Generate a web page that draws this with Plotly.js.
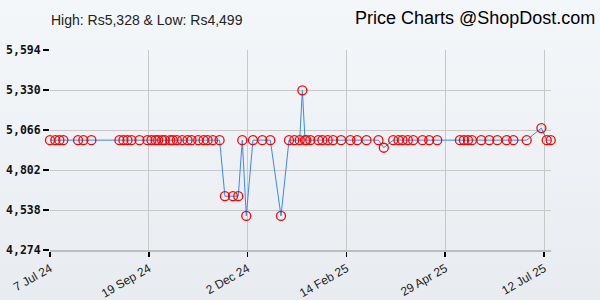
<!DOCTYPE html>
<html>
<head>
<meta charset="utf-8">
<script src="https://cdn.plot.ly/plotly-3.0.1.min.js"></script>
<style>
html,body{margin:0;padding:0;}
#wrap{width:600px;height:300px;background:linear-gradient(to bottom,#f4f7fa 0%,#e8ecf0 100%);}
#chart{width:600px;height:300px;}
</style>
</head>
<body>
<div id="wrap"><div id="chart"></div></div>
<script>
const dates = [
 '2024-07-07','2024-07-11','2024-07-14','2024-07-17','2024-07-28','2024-08-01','2024-08-07',
 '2024-08-28','2024-08-31','2024-09-03','2024-09-06','2024-09-12','2024-09-18','2024-09-21',
 '2024-09-24','2024-09-26','2024-09-29','2024-10-01','2024-10-05','2024-10-07','2024-10-10',
 '2024-10-14','2024-10-18','2024-10-21','2024-10-26','2024-10-30','2024-11-02','2024-11-06',
 '2024-11-11','2024-11-15','2024-11-21','2024-11-25','2024-11-28','2024-12-01','2024-12-06',
 '2024-12-13','2024-12-19','2024-12-27','2025-01-02','2025-01-06','2025-01-10','2025-01-12',
 '2025-01-14','2025-01-15','2025-01-18','2025-01-24','2025-01-27','2025-01-31','2025-02-04',
 '2025-02-10','2025-02-17','2025-02-22','2025-03-01','2025-03-10','2025-03-14','2025-03-21',
 '2025-03-25','2025-03-28','2025-04-01','2025-04-05','2025-04-12','2025-04-17','2025-04-23',
 '2025-05-10','2025-05-13','2025-05-16','2025-05-19','2025-05-26','2025-06-01','2025-06-07',
 '2025-06-14','2025-06-19','2025-06-29','2025-07-10','2025-07-14','2025-07-17'
];
const prices = [
 4999,4999,4999,4999,4999,4999,4999,
 4999,4999,4999,4999,4999,4999,4999,
 4999,4999,4999,4999,4999,4999,4999,
 4999,4999,4999,4999,4999,4999,4999,
 4999,4629,4629,4629,4999,4499,4999,
 4999,4999,4499,4999,4999,4999,5328,
 4999,4999,4999,4999,4999,4999,4999,
 4999,4999,4999,4999,4999,4949,4999,
 4999,4999,4999,4999,4999,4999,4999,
 4999,4999,4999,4999,4999,4999,4999,
 4999,4999,4999,5079,4999,4999
];
const yTickVals = [4274,4538,4802,5066,5330,5594];
const yTickText = ['4,274','4,538','4,802','5,066','5,330','5,594'];
const xTickVals = ['2024-07-07','2024-09-19','2024-12-02','2025-02-14','2025-04-29','2025-07-12'];
const xTickText = ['7 Jul 24','19 Sep 24','2 Dec 24','14 Feb 25','29 Apr 25','12 Jul 25'];

const trace = {
  x: dates, y: prices, type:'scatter', mode:'lines+markers',
  line:{color:'rgb(60,135,240)', width:1},
  marker:{symbol:'circle-open', size:9, color:'rgb(255,0,0)', line:{width:1.3, color:'rgb(255,0,0)'}},
  cliponaxis:false, hoverinfo:'x+y'
};
const layout = {
  width:600, height:300,
  margin:{l:50, r:49, t:50, b:50},
  paper_bgcolor:'rgba(0,0,0,0)', plot_bgcolor:'rgba(0,0,0,0)',
  showlegend:false,
  xaxis:{
    type:'date', range:['2024-07-07','2025-07-17 05:00'],
    tickvals:xTickVals, ticktext:xTickText, tickangle:-30,
    tickfont:{family:'Liberation Sans, Arial, sans-serif', size:12, color:'#222'},
    ticks:'outside', ticklen:5, tickcolor:'#000', tickwidth:1.5,
    showgrid:true, gridcolor:'#c8c8c8', gridwidth:1,
    showline:true, linecolor:'#bdbdbd', linewidth:2,
    zeroline:false, fixedrange:true
  },
  yaxis:{
    range:[4274,5594], tickvals:yTickVals, ticktext:yTickText,
    tickfont:{family:'DejaVu Sans Mono, monospace', size:11.5, color:'#111', weight:'bold'},
    ticks:'outside', ticklen:6, tickcolor:'#000', tickwidth:1.5,
    showgrid:true, gridcolor:'#c8c8c8', gridwidth:1,
    showline:false, zeroline:false, fixedrange:true
  },
  annotations:[
    {text:'High: Rs5,328 & Low: Rs4,499', xref:'paper', yref:'paper', x:-0.002, y:1.0,
     xanchor:'left', yanchor:'bottom', yshift:20, showarrow:false,
     font:{family:'Liberation Sans, Arial, sans-serif', size:14, color:'#222'}},
    {text:'Price Charts @ShopDost.com', xref:'paper', yref:'paper', x:1.0, y:1.0,
     xanchor:'right', yanchor:'bottom', yshift:20, xshift:46, showarrow:false,
     font:{family:'Liberation Sans, Arial, sans-serif', size:18, color:'#000'}}
  ]
};
Plotly.newPlot('chart',[trace],layout,{displayModeBar:false, staticPlot:true});
</script>
</body>
</html>
